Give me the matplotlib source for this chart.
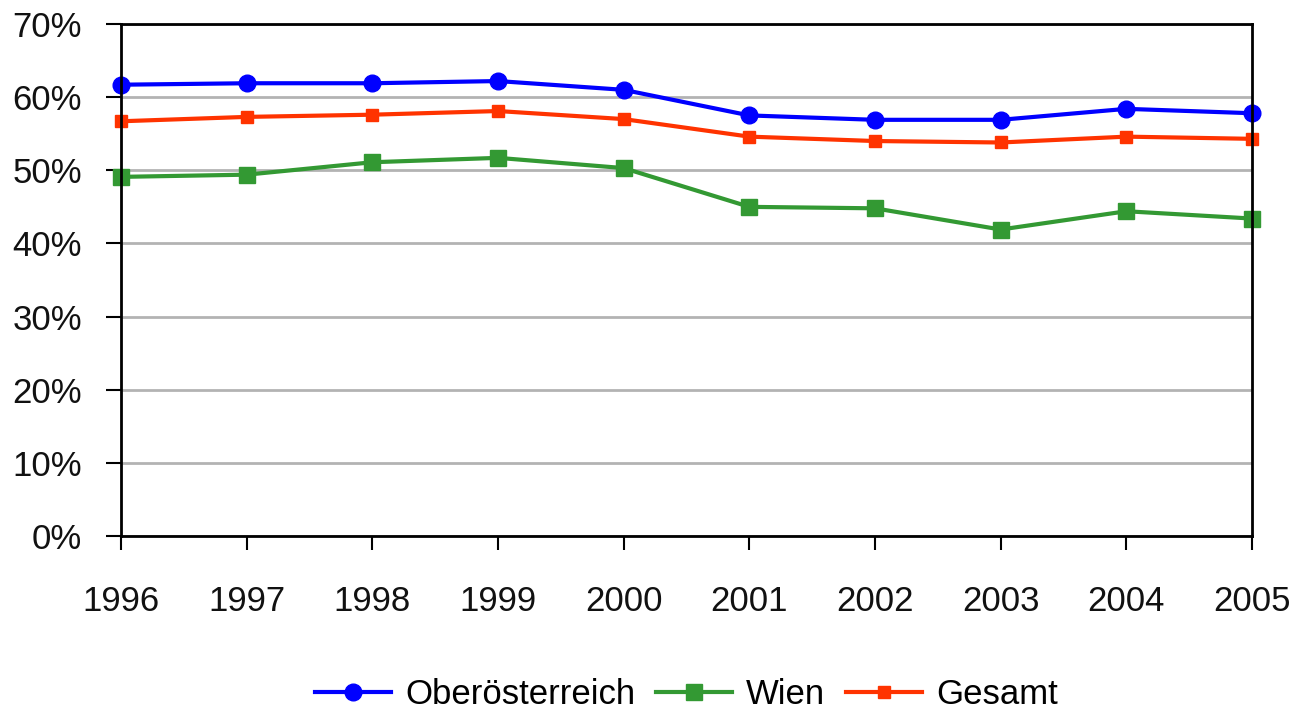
import matplotlib
matplotlib.use("Agg")
import matplotlib.pyplot as plt
from matplotlib.ticker import FuncFormatter, MultipleLocator

years = ["1996", "1997", "1998", "1999", "2000", "2001", "2002", "2003", "2004", "2005"]
oberoesterreich = [61.7, 61.9, 61.9, 62.2, 61.0, 57.5, 56.9, 56.9, 58.4, 57.8]
wien = [49.1, 49.4, 51.1, 51.7, 50.3, 45.0, 44.8, 41.9, 44.4, 43.4]
gesamt = [56.7, 57.3, 57.6, 58.1, 57.0, 54.6, 54.0, 53.8, 54.6, 54.3]

plt.rcParams["font.family"] = ["Liberation Sans", "DejaVu Sans"]

fig = plt.figure(figsize=(12.95, 7.10), dpi=100)
ax = fig.add_axes([121 / 1295, 1 - 536 / 710, (1252 - 121) / 1295, (536 - 24) / 710])

x = list(range(len(years)))
ax.plot(x, oberoesterreich, color="#0000FF", lw=3, marker="o", ms=12,
        label="Oberösterreich", zorder=4, clip_on=False)
ax.plot(x, wien, color="#339933", lw=3, marker="s", ms=11.5,
        label="Wien", zorder=3, clip_on=False)
ax.plot(x, gesamt, color="#FF3300", lw=3, marker="s", ms=9,
        label="Gesamt", zorder=3, clip_on=False)

ax.set_xlim(0, len(years) - 1)
ax.set_ylim(0, 70)
ax.yaxis.set_major_locator(MultipleLocator(10))
ax.yaxis.set_major_formatter(FuncFormatter(lambda v, p: f"{v:.0f}%"))
ax.set_xticks(x)
ax.set_xticklabels(years)

ax.grid(axis="y", color="#B3B3B3", lw=2)
ax.set_axisbelow(True)
for s in ax.spines.values():
    s.set_color("black")
    s.set_linewidth(2)
    s.set_zorder(5)

ax.tick_params(axis="x", direction="out", length=10, width=1.5, pad=25,
               labelsize=25, colors="black")
ax.tick_params(axis="y", direction="out", length=11, width=1.5, pad=17,
               labelsize=25, colors="black")
for lbl in ax.get_xticklabels() + ax.get_yticklabels():
    lbl.set_color("#111111")

leg = fig.legend(loc="center", bbox_to_anchor=(0.53, 1 - 695 / 710), ncol=3,
                 frameon=False, fontsize=25, handlelength=2.2,
                 handletextpad=0.4, columnspacing=0.6)

fig.savefig("out.png", dpi=100)
